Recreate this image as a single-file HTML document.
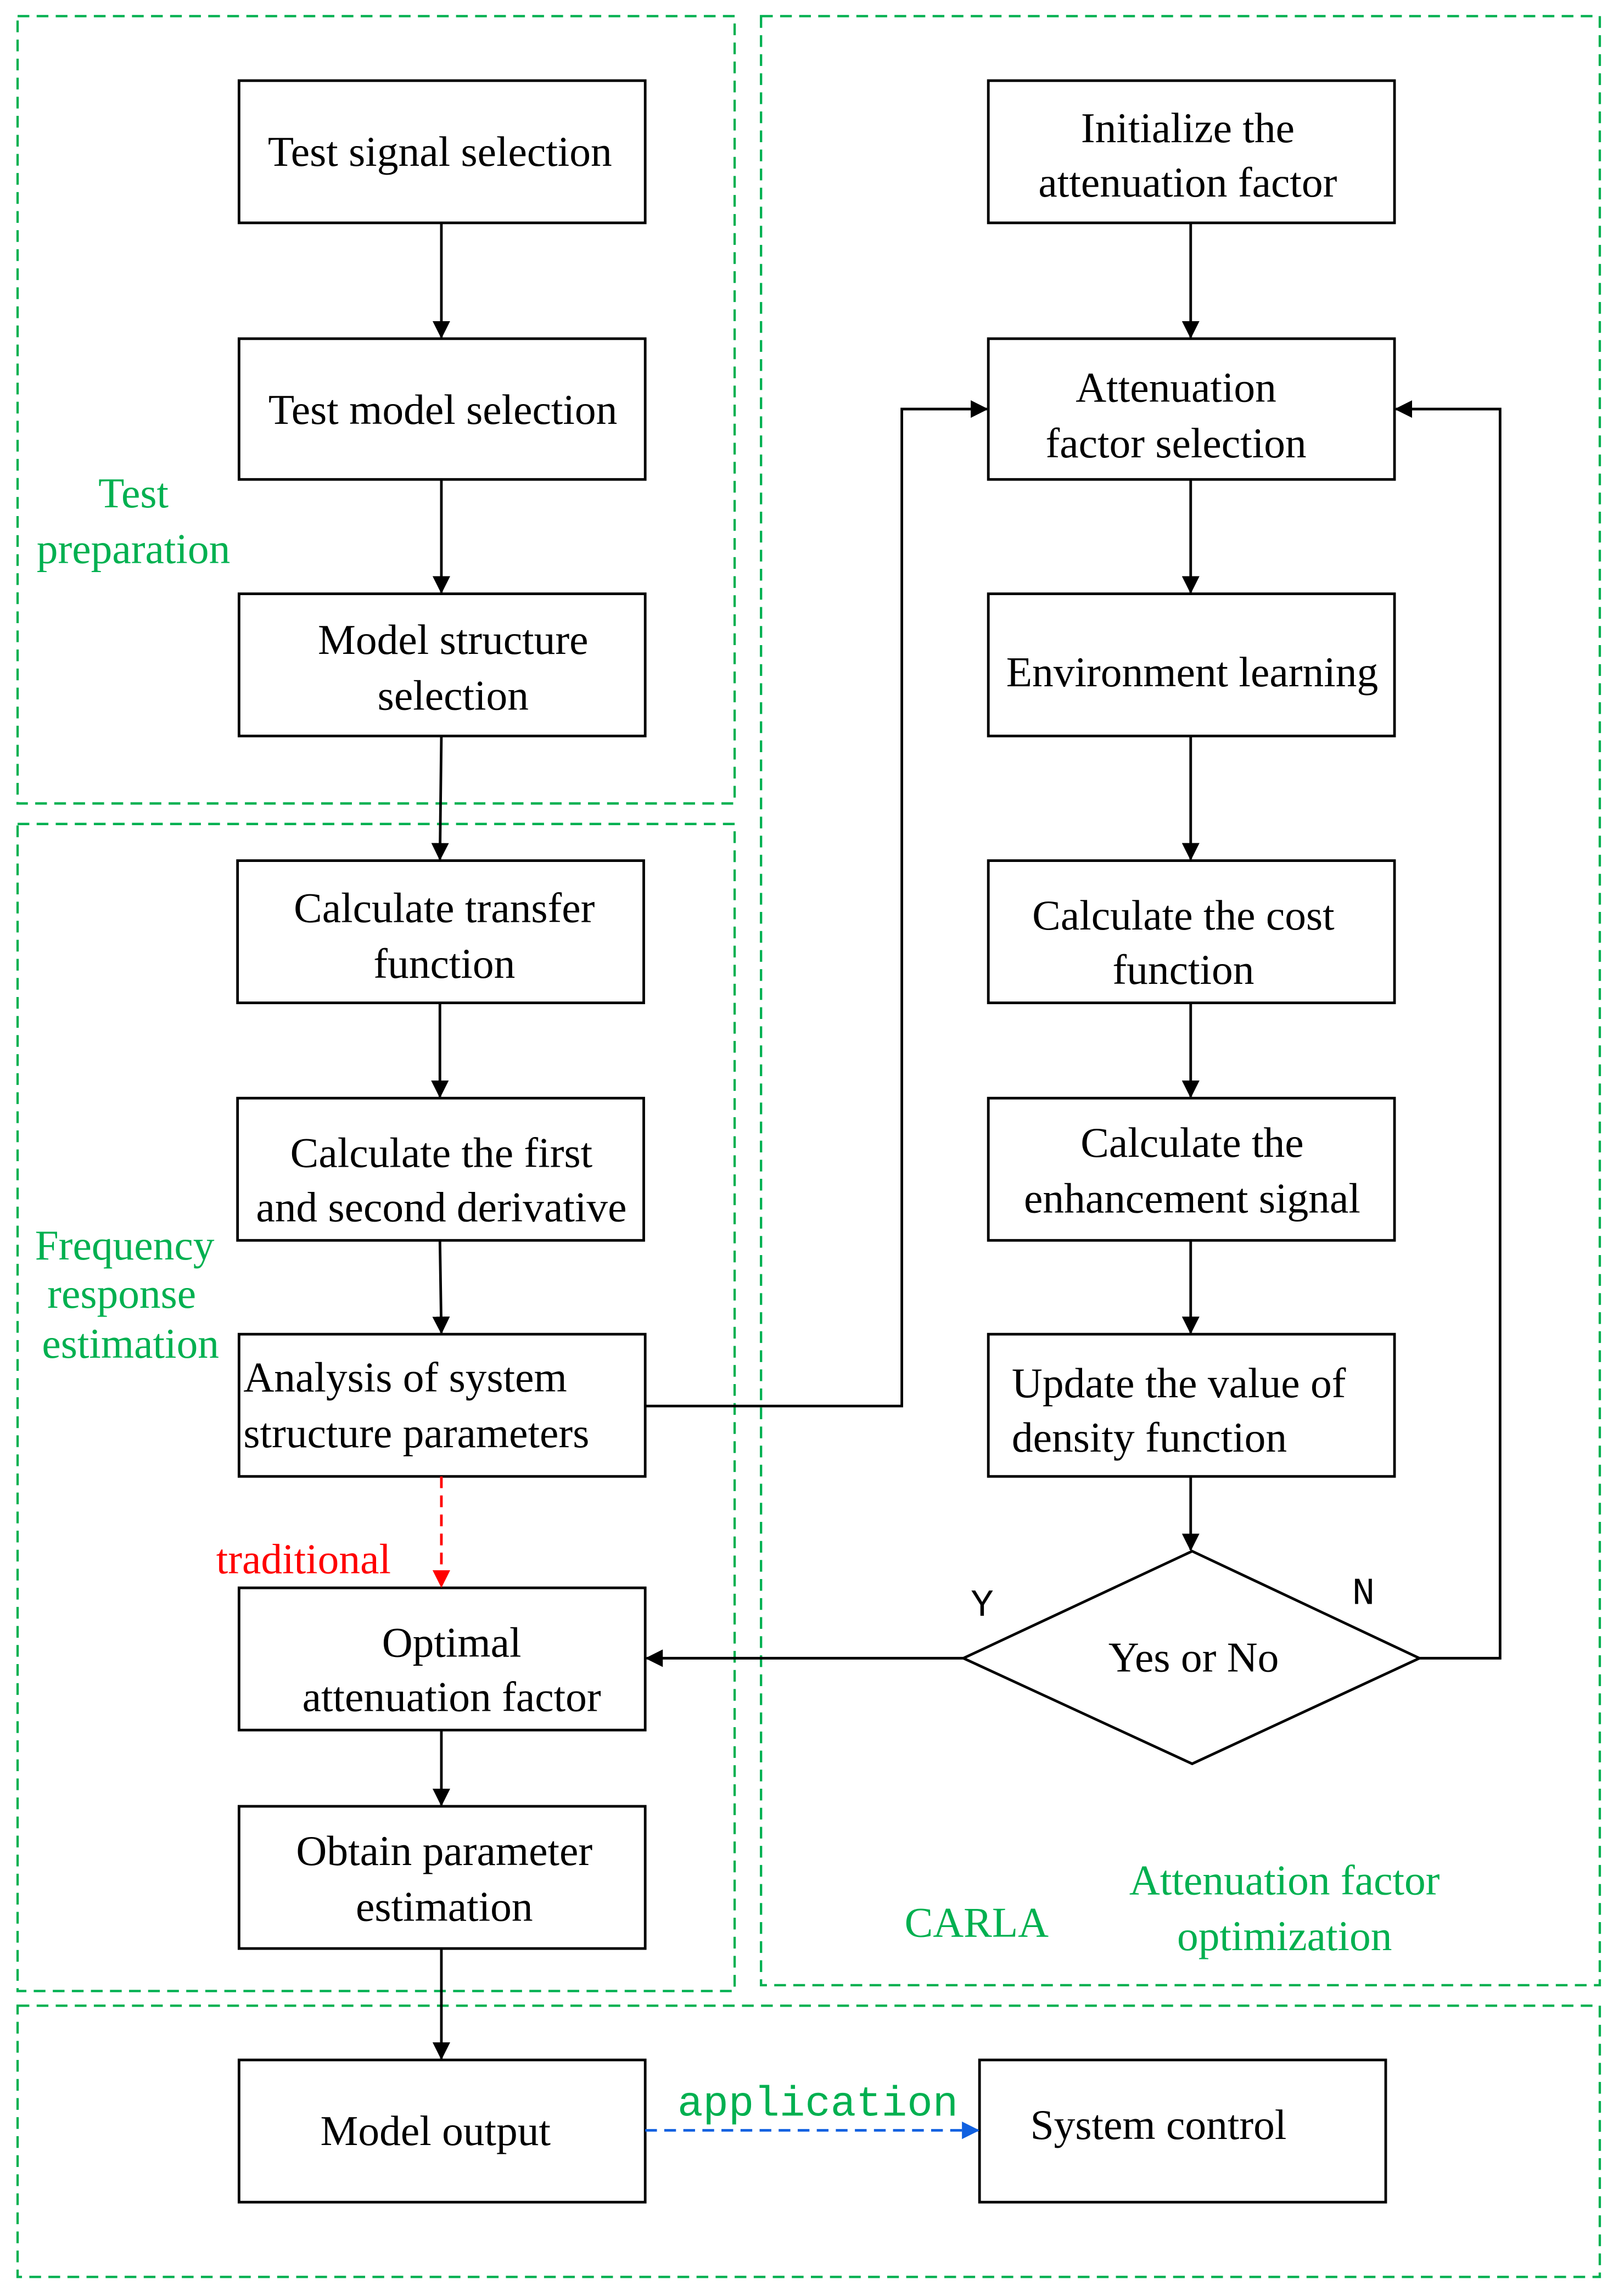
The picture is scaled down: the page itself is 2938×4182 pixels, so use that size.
<!DOCTYPE html>
<html><head><meta charset="utf-8"><style>
html,body{margin:0;padding:0;background:#fff;}
svg{display:block;}
text{font-family:"Liberation Serif",serif;font-size:29px;fill:#000;}
.g{fill:#00b050;}
</style></head><body>
<svg width="2938" height="4182" viewBox="0 0 1100 1566" preserveAspectRatio="none" xmlns="http://www.w3.org/2000/svg">
<defs>
<marker id="a" markerWidth="12" markerHeight="12" refX="11" refY="6" orient="auto" markerUnits="userSpaceOnUse"><path d="M0,0 L12,6 L0,12 z" fill="#000"/></marker>
<marker id="r" markerWidth="12" markerHeight="12" refX="11" refY="6" orient="auto" markerUnits="userSpaceOnUse"><path d="M0,0 L12,6 L0,12 z" fill="#f00"/></marker>
<marker id="b" markerWidth="12" markerHeight="12" refX="11" refY="6" orient="auto" markerUnits="userSpaceOnUse"><path d="M0,0 L12,6 L0,12 z" fill="#1060e0"/></marker>
</defs>
<g fill="none" stroke="#00b050" stroke-width="1.6" stroke-dasharray="8,5">
<rect x="12" y="11" width="489" height="537"/>
<rect x="519" y="11" width="572" height="1343"/>
<rect x="12" y="562" width="489" height="796"/>
<rect x="12" y="1368" width="1079" height="185"/>
</g>
<g fill="#fff" stroke="#000" stroke-width="1.8">
<rect x="163" y="55" width="277" height="97"/>
<rect x="163" y="231" width="277" height="96"/>
<rect x="163" y="405" width="277" height="97"/>
<rect x="162" y="587" width="277" height="97"/>
<rect x="162" y="749" width="277" height="97"/>
<rect x="163" y="910" width="277" height="97"/>
<rect x="163" y="1083" width="277" height="97"/>
<rect x="163" y="1232" width="277" height="97"/>
<rect x="163" y="1405" width="277" height="97"/>
<rect x="668" y="1405" width="277" height="97"/>
<rect x="674" y="55" width="277" height="97"/>
<rect x="674" y="231" width="277" height="96"/>
<rect x="674" y="405" width="277" height="97"/>
<rect x="674" y="587" width="277" height="97"/>
<rect x="674" y="749" width="277" height="97"/>
<rect x="674" y="910" width="277" height="97"/>
<path d="M657,1131 L813,1058 L968,1131 L813,1203 Z"/>
</g>
<g stroke="#000" stroke-width="1.8" fill="none" marker-end="url(#a)">
<line x1="301" y1="152" x2="301" y2="230"/>
<line x1="301" y1="327" x2="301" y2="404"/>
<line x1="301" y1="502" x2="300" y2="586"/>
<line x1="300" y1="684" x2="300" y2="748"/>
<line x1="300" y1="846" x2="301" y2="909"/>
<line x1="301" y1="1180" x2="301" y2="1231"/>
<line x1="301" y1="1329" x2="301" y2="1404"/>
<line x1="812" y1="152" x2="812" y2="230"/>
<line x1="812" y1="327" x2="812" y2="404"/>
<line x1="812" y1="502" x2="812" y2="586"/>
<line x1="812" y1="684" x2="812" y2="748"/>
<line x1="812" y1="846" x2="812" y2="909"/>
<line x1="812" y1="1007" x2="812" y2="1057"/>
<polyline points="440,959 615,959 615,279 673,279"/>
<polyline points="968,1131 1023,1131 1023,279 952,279"/>
<line x1="657" y1="1131" x2="441" y2="1131"/>
</g>
<line x1="301" y1="1007" x2="301" y2="1082" stroke="#f00" stroke-width="1.8" stroke-dasharray="8,5" marker-end="url(#r)"/>
<line x1="440" y1="1453" x2="667" y2="1453" stroke="#1060e0" stroke-width="1.8" stroke-dasharray="8,5" marker-end="url(#b)"/>
<g text-anchor="middle">
<text x="300" y="113">Test signal selection</text>
<text x="302" y="289">Test model selection</text>
<text x="309" y="446">Model structure</text>
<text x="309" y="484">selection</text>
<text x="303" y="629">Calculate transfer</text>
<text x="303" y="667">function</text>
<text x="301" y="796">Calculate the first</text>
<text x="301" y="833">and second derivative</text>
<text x="308" y="1130">Optimal</text>
<text x="308" y="1167">attenuation factor</text>
<text x="303" y="1272">Obtain parameter</text>
<text x="303" y="1310">estimation</text>
<text x="297" y="1463">Model output</text>
<text x="790" y="1459">System control</text>
<text x="810" y="97">Initialize the</text>
<text x="810" y="134">attenuation factor</text>
<text x="802" y="274">Attenuation</text>
<text x="802" y="312">factor selection</text>
<text x="813" y="468">Environment learning</text>
<text x="807" y="634">Calculate the cost</text>
<text x="807" y="671">function</text>
<text x="813" y="789">Calculate the</text>
<text x="813" y="827">enhancement signal</text>
<text x="814" y="1140">Yes or No</text>
<text class="g" x="91" y="346">Test</text>
<text class="g" x="91" y="384">preparation</text>
<text class="g" x="85" y="859">Frequency</text>
<text class="g" x="83" y="892">response</text>
<text class="g" x="89" y="926">estimation</text>
<text class="g" x="666" y="1321">CARLA</text>
<text class="g" x="876" y="1292">Attenuation factor</text>
<text class="g" x="876" y="1330">optimization</text>
<text x="207" y="1073" style="fill:#f00">traditional</text>
</g>
<text x="166" y="949">Analysis of system</text>
<text x="166" y="987">structure parameters</text>
<text x="690" y="953">Update the value of</text>
<text x="690" y="990">density function</text>
<text x="662" y="1102" style="font-family:'Liberation Mono',monospace;font-size:26px">Y</text>
<text x="922" y="1094" style="font-family:'Liberation Mono',monospace;font-size:26px">N</text>
<text x="462" y="1443" class="g" style="font-family:'Liberation Mono',monospace;font-size:29px">application</text>
</svg>
</body></html>
